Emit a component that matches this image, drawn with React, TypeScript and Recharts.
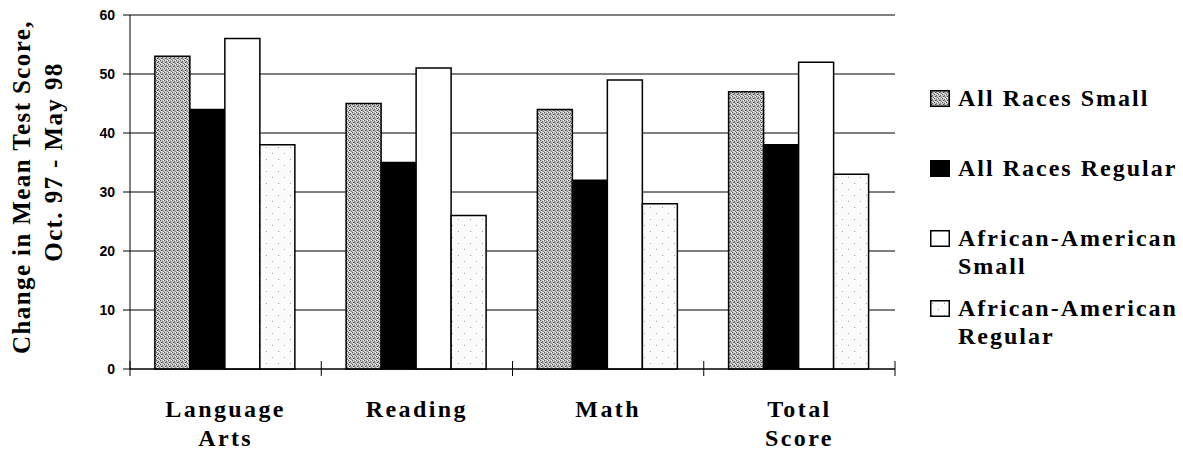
import React from 'react';
import { BarChart, Bar, XAxis, YAxis, CartesianGrid } from 'recharts';

const categories = ['Language Arts', 'Reading', 'Math', 'Total Score'];
const categoryLines = [['Language', 'Arts'], ['Reading'], ['Math'], ['Total', 'Score']];
const allRacesSmall = [53, 45, 44, 47];
const allRacesRegular = [44, 35, 32, 38];
const africanAmericanSmall = [56, 51, 49, 52];
const africanAmericanRegular = [38, 26, 28, 33];
const yTicks = [0, 10, 20, 30, 40, 50, 60];
const seriesNames = ['All Races Small', 'All Races Regular', 'African-American Small', 'African-American Regular'];

const data = categories.map((name, i) => ({
  name,
  ars: allRacesSmall[i],
  arr: allRacesRegular[i],
  aas: africanAmericanSmall[i],
  aar: africanAmericanRegular[i],
}));

const W = 1183;
const H = 451;
const PLOT_LEFT = 130;
const PLOT_RIGHT = 895;
const BAND = (PLOT_RIGHT - PLOT_LEFT) / categories.length;
const SERIF = "'Liberation Serif', 'DejaVu Serif', serif";
const SANS = "'Liberation Sans', Arial, sans-serif";

const fills = ['url(#stipple)', '#000000', '#ffffff', 'url(#speckle)'];
const keys = ['ars', 'arr', 'aas', 'aar'];

const CategoryTick = (props: any) => {
  const { x, y, payload, index } = props;
  const lines = categoryLines[index] || [payload.value];
  return (
    <g>
      <line x1={x - BAND / 2} x2={x - BAND / 2} y1={y - 8} y2={y + 7} stroke="#000" strokeWidth={1} />
      {index === categories.length - 1 && (
        <line x1={x + BAND / 2} x2={x + BAND / 2} y1={y - 8} y2={y + 7} stroke="#000" strokeWidth={1} />
      )}
      <text textAnchor="middle" style={{ fontFamily: SERIF }} fontWeight={700} fontSize={24} letterSpacing={2.4} fill="#000">
        {lines.map((l, i) => (
          <tspan key={l} x={x} y={y + 48 + i * 29}>{l}</tspan>
        ))}
      </text>
    </g>
  );
};

const YTitle = () => (
  <g style={{ fontFamily: SERIF }} fontWeight={700} fontSize={25} letterSpacing={1.4} fill="#000">
    <text transform="translate(30,187) rotate(-90)" textAnchor="middle">Change in Mean Test Score,</text>
    <text transform="translate(62,162) rotate(-90)" textAnchor="middle">Oct. 97 - May 98</text>
  </g>
);

const Swatch = ({ fill }: { fill: string }) => (
  <svg width={20} height={17} style={{ flex: 'none', marginTop: 6 }}>
    <rect x={0.75} y={0.75} width={18.5} height={15.5} fill={fill} stroke="#000" strokeWidth={1.5} />
  </svg>
);

export default function App() {
  return (
    <div style={{ position: 'relative', width: W, height: H, background: '#fff' }}>
      <style>{'body{margin:0}'}</style>
      <BarChart
        width={W}
        height={H}
        data={data}
        margin={{ top: 15, right: W - PLOT_RIGHT, bottom: 0, left: 0 }}
        barCategoryGap="13%"
        barGap={0}
      >
        <defs>
          <pattern id="stipple" width={4} height={4} patternUnits="userSpaceOnUse">
            <rect width={4} height={4} fill="#c4c4c4" />
            <rect x={0} y={0} width={1} height={1} fill="#5a5a5a" />
            <rect x={2} y={1} width={1} height={1} fill="#6e6e6e" />
            <rect x={1} y={2} width={1} height={1} fill="#4c4c4c" />
            <rect x={3} y={3} width={1} height={1} fill="#7a7a7a" />
            <rect x={3} y={0} width={1} height={1} fill="#f0f0f0" />
            <rect x={1} y={3} width={1} height={1} fill="#eeeeee" />
            <rect x={2} y={2} width={1} height={1} fill="#8a8a8a" />
          </pattern>
          <pattern id="speckle" width={12} height={12} patternUnits="userSpaceOnUse">
            <rect width={12} height={12} fill="#fbfbfb" />
            <rect x={2} y={3} width={1} height={1} fill="#a0a0a0" />
            <rect x={8} y={9} width={1} height={1} fill="#b0b0b0" />
          </pattern>
        </defs>
        <CartesianGrid vertical={false} stroke="#000" strokeWidth={1} />
        <XAxis
          dataKey="name"
          height={82}
          axisLine={{ stroke: '#000', strokeWidth: 1 }}
          tickLine={false}
          tickSize={0}
          tickMargin={0}
          interval={0}
          tick={<CategoryTick />}
        />
        <YAxis
          width={PLOT_LEFT}
          domain={[0, 60]}
          ticks={yTicks}
          interval={0}
          axisLine={{ stroke: '#000', strokeWidth: 1 }}
          tickLine={{ stroke: '#000', strokeWidth: 1 }}
          tickSize={7}
          tickMargin={8}
          tick={{ fontFamily: SANS, fontWeight: 700, fontSize: 14, fill: '#000' }}
          label={<YTitle />}
        />
        {keys.map((k, i) => (
          <Bar
            key={k}
            dataKey={k}
            name={seriesNames[i]}
            fill={fills[i]}
            stroke="#000"
            strokeWidth={1.5}
            isAnimationActive={false}
          />
        ))}
      </BarChart>
      <div
        style={{
          position: 'absolute',
          left: 930,
          top: 84,
          width: 253,
          fontFamily: SERIF,
          fontWeight: 700,
          fontSize: 24,
          letterSpacing: 2,
          lineHeight: '28px',
          color: '#000',
        }}
      >
        {seriesNames.map((n, i) => (
          <div key={n} style={{ display: 'flex', gap: 8, height: 70 }}>
            <Swatch fill={fills[i]} />
            <div style={{ width: 225 }}>{n}</div>
          </div>
        ))}
      </div>
    </div>
  );
}
